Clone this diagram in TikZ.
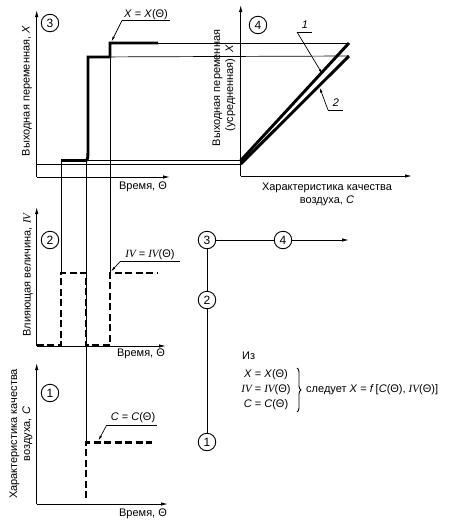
\documentclass[tikz,border=0pt]{standalone}
\usepackage{fontspec}
\setmainfont{Liberation Sans}
\newfontfamily\tnr{Liberation Serif}
\usetikzlibrary{arrows.meta,calc,decorations.pathreplacing}
\newcommand\IVv{{\tnr\itshape IV}}
\begin{document}
\begin{tikzpicture}[x=1pt,y=-1pt,
  axis/.style={line width=0.9pt,-{Latex[length=7pt,width=3.5pt]}},
  thinln/.style={line width=0.7pt},
  curve/.style={line width=2.9pt},
  dcurve/.style={line width=2.5pt,dash pattern=on 7pt off 3.5pt},
  lead/.style={line width=0.7pt,-{Latex[length=5pt,width=2.5pt]}},
  num/.style={circle,draw,line width=0.9pt,minimum size=17.5pt,inner sep=0pt,font=\fontsize{12}{12}\selectfont},
  lbl/.style={font=\fontsize{11}{13}\selectfont,inner sep=0pt}]
\useasboundingbox (0,0) rectangle (448,520);

% ---------- panel 3 ----------
\coordinate (o3) at (36.7,177);
\coordinate (y3t) at (36.7,10);
\coordinate (x3r) at (170,177);
\draw[axis] (o3) -- (y3t);
\draw[axis] (o3) -- (x3r);
% ---------- panel 4 ----------
\coordinate (o4) at (240.7,176);
\coordinate (y4t) at (240.7,5);
\coordinate (x4r) at (412,176);
\draw[axis] (o4) -- (y4t);
\draw[axis] (o4) -- (x4r);

% key points
\coordinate (a0) at (36.7,164);
\coordinate (a1) at (61,160.5);
\coordinate (a2) at (86,160.5);
\coordinate (a3) at (88,57);
\coordinate (a4) at (110,57);
\coordinate (a5) at (110,43);
\coordinate (a6) at (158,43);
\coordinate (L1a) at (240.7,160.5);
\coordinate (L1b) at (349,43);
\coordinate (L2a) at (240.7,164);
\coordinate (L2b) at (349,56);

% thin projection lines
\draw[thinln] (a0) -- (L2a);
\draw[thinln] (a1) -- (L1a);
\draw[thinln] (a3) -- (L2b);
\draw[thinln] (a5) -- (L1b);
\draw[thinln] (a1) -- (61,273);
\draw[thinln] (a2) -- (86,442.5);
\draw[thinln] (a5) -- (110,273);

% thick curve panel 3
\draw[curve,line join=miter] (a1) -- (a2) .. controls (88,160.5) and (88,156) .. (88,146) -- (a3) -- (a4) -- (a5) -- (a6);
% thick lines panel 4
\draw[curve] (L1a) -- (L1b);
\draw[curve] (L2a) -- (L2b);

% labels panel 3
\node[lbl,rotate=90] (y3) at (27,91) {Выходная переменная, \textit{X}};
\node[lbl] (t3) at (143,187) {Время, Θ};
\node[num] (n3) at (50,23) {3};
\node[lbl] (f3) at (146,14.5) {\textit{X} = \textit{X}(Θ)};
\coordinate (f3u) at (122,20.5);
\draw[thinln] (f3u) -- (170,20.5);
\draw[lead] (f3u) -- (111.5,41.5);

% labels panel 4
\node[lbl,rotate=90,align=center] (y4) at (224,88) {Выходная переменная\\(усредненная), \textit{X}};
\node[lbl,align=center] (t4) at (327,194) {Характеристика качества\\воздуха, \textit{C}};
\node[num] (n4) at (258,25) {4};
\node[lbl] (l1) at (305,25) {\textit{1}};
\node[lbl] (l2) at (336,103) {\textit{2}};
\coordinate (l1u) at (297,32);
\draw[thinln] (l1u) -- (312,32);
\draw[lead] (l1u) -- ($(L1a)!0.745!(L1b)+(1,1)$);
\coordinate (l2u) at (328,110);
\draw[thinln] (l2u) -- (343,110);
\draw[lead] (l2u) -- ($(L2a)!0.72!(L2b)+(1,1.4)$);

% ---------- panel 2 ----------
\coordinate (o2) at (36.7,346);
\draw[axis] (o2) -- (36.7,207);
\draw[axis] (o2) -- (166,346);
\draw[dcurve] (36.7,345) -- (61,345) -- (61,273) -- (86,273) -- (86,345) -- (110,345) -- (110,273) -- (158,273);
\node[lbl,rotate=90] (y2) at (28,275) {Влияющая величина, \IVv};
\node[lbl] (t2) at (141,354) {Время, Θ};
\node[num] (n2) at (50,240) {2};
\node[lbl] (f2) at (150,255) {\IVv{} = \IVv(Θ)};
\coordinate (f2u) at (120,261.7);
\draw[thinln] (f2u) -- (180,261.7);
\draw[lead] (f2u) -- (111,271.5);

% ---------- panel 1 ----------
\coordinate (o1) at (36.7,504);
\draw[axis] (o1) -- (36.7,363);
\draw[axis] (o1) -- (168,504);
\draw[dcurve] (86,498) -- (86,442.5) -- (152,442.5);
\node[lbl,rotate=90,align=center] (y1) at (21,434) {Характеристика качества\\воздуха, \textit{C}};
\node[lbl] (t1) at (143,514) {Время, Θ};
\node[num] (n1) at (50,393) {1};
\node[lbl] (f1) at (133,418) {\textit{C} = \textit{C}(Θ)};
\coordinate (f1u) at (106.7,425);
\draw[thinln] (f1u) -- (156.7,425);
\draw[lead] (f1u) -- (98.5,440.5);

% ---------- scheme ----------
\node[num] (c3) at (207,240) {3};
\node[num] (c4) at (283,240) {4};
\node[num] (c2) at (207,300) {2};
\node[num] (c1) at (207,442) {1};
\coordinate (c4e) at (349,240);
\draw[line width=0.9pt] (c3) -- (c4);
\draw[axis] (c4) -- (c4e);
\draw[line width=0.9pt] (c3) -- (c2);
\draw[line width=0.9pt] (c2) -- (c1);

% ---------- text block ----------
\node[lbl,anchor=west] (iz) at (242,356) {Из};
\node[lbl] (e1) at (266,375) {\textit{X} = \textit{X}(Θ)};
\node[lbl] (e2) at (266,390) {\IVv{} = \IVv(Θ)};
\node[lbl] (e3) at (266,405) {\textit{C} = \textit{C}(Θ)};
\draw[line width=0.9pt,decorate,decoration={brace,amplitude=4pt}] (297,368) -- (297,412);
\node[lbl,anchor=west] (res) at (306,390) {следует \textit{X} = \textit{f}\,[\textit{C}(Θ), \IVv(Θ)]};
\end{tikzpicture}
\end{document}
